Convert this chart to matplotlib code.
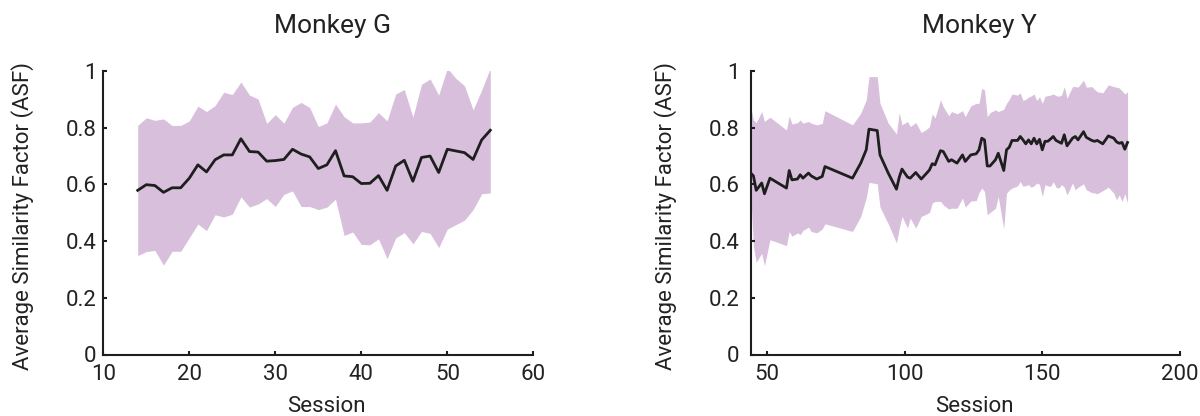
import matplotlib
matplotlib.use("Agg")
import matplotlib.pyplot as plt
import numpy as np

plt.rcParams['font.family'] = ['Roboto', 'DejaVu Sans']

# ---------------- Monkey G ----------------
g_session = list(range(14, 56))
g_mean = [0.579, 0.599, 0.596, 0.572, 0.588, 0.588, 0.622, 0.669, 0.644, 0.687,
          0.704, 0.704, 0.761, 0.716, 0.714, 0.682, 0.684, 0.688, 0.724, 0.707,
          0.697, 0.656, 0.669, 0.719, 0.630, 0.627, 0.603, 0.604, 0.631, 0.579,
          0.665, 0.685, 0.611, 0.695, 0.700, 0.642, 0.724, 0.718, 0.712, 0.688,
          0.757, 0.791]
g_upper = [0.808, 0.835, 0.826, 0.831, 0.808, 0.808, 0.824, 0.876, 0.857, 0.878,
           0.925, 0.917, 0.961, 0.915, 0.901, 0.815, 0.846, 0.816, 0.872, 0.889,
           0.871, 0.804, 0.817, 0.883, 0.839, 0.817, 0.817, 0.820, 0.853, 0.824,
           0.919, 0.935, 0.837, 0.953, 0.972, 0.915, 1.010, 0.974, 0.948, 0.863,
           0.933, 1.010]
g_lower = [0.349, 0.363, 0.367, 0.315, 0.364, 0.364, 0.412, 0.460, 0.437, 0.493,
           0.485, 0.495, 0.556, 0.520, 0.531, 0.550, 0.522, 0.565, 0.577, 0.522,
           0.522, 0.511, 0.520, 0.548, 0.420, 0.432, 0.388, 0.387, 0.408, 0.338,
           0.411, 0.430, 0.390, 0.434, 0.427, 0.377, 0.442, 0.458, 0.474, 0.511,
           0.567, 0.570]

# ---------------- Monkey Y ----------------
y_session = [44, 45, 46, 48, 49, 51, 57, 58, 59, 61, 62, 63, 65, 66, 68, 70, 71,
             81, 84, 86, 87, 90, 91, 94, 97, 98, 99, 101, 102, 104, 106, 108, 109,
             110, 111, 113, 114, 116, 117, 119, 121, 122, 124, 126, 127, 128, 129,
             130, 131, 133, 134, 136, 137, 138, 139, 141, 142, 143, 144, 145, 146,
             147, 148, 149, 150, 151, 152, 153, 154, 155, 156, 157, 158, 159, 161,
             162, 163, 165, 166, 168, 169, 170, 172, 174, 176, 177, 178, 179, 180,
             181]
y_mean = [0.640, 0.630, 0.579, 0.605, 0.567, 0.622, 0.587, 0.649, 0.616, 0.619,
          0.634, 0.622, 0.640, 0.630, 0.619, 0.628, 0.663,
          0.622, 0.675, 0.722, 0.795, 0.790, 0.704, 0.640, 0.583, 0.625, 0.654,
          0.626, 0.622, 0.642, 0.619, 0.640, 0.651,
          0.673, 0.669, 0.719, 0.716, 0.681, 0.687, 0.675, 0.704, 0.681, 0.704,
          0.708, 0.722, 0.763, 0.757,
          0.665, 0.665, 0.687, 0.710, 0.649, 0.722, 0.731, 0.755, 0.755, 0.769,
          0.757, 0.743, 0.757, 0.743,
          0.763, 0.743, 0.759, 0.722, 0.752, 0.752, 0.760, 0.769, 0.755, 0.750,
          0.745, 0.775, 0.736, 0.763,
          0.769, 0.757, 0.786, 0.766, 0.755, 0.752, 0.755, 0.743, 0.771, 0.763,
          0.750, 0.745, 0.748, 0.724, 0.748]
y_upper = [0.874, 0.827, 0.818, 0.857, 0.822, 0.837, 0.792, 0.842, 0.813, 0.818,
           0.827, 0.816, 0.822, 0.816, 0.810, 0.815, 0.860,
           0.810, 0.851, 0.898, 0.980, 0.980, 0.886, 0.816, 0.778, 0.853, 0.810,
           0.822, 0.804, 0.818, 0.783, 0.795, 0.804,
           0.849, 0.834, 0.898, 0.874, 0.842, 0.857, 0.849, 0.860, 0.839, 0.877,
           0.886, 0.886, 0.939, 0.933,
           0.839, 0.853, 0.863, 0.857, 0.865, 0.886, 0.900, 0.919, 0.915, 0.923,
           0.896, 0.900, 0.908, 0.912,
           0.919, 0.896, 0.909, 0.886, 0.911, 0.913, 0.915, 0.919, 0.913, 0.911,
           0.915, 0.945, 0.904, 0.945,
           0.945, 0.943, 0.968, 0.943, 0.945, 0.935, 0.927, 0.923, 0.951, 0.945,
           0.943, 0.940, 0.930, 0.919, 0.927]
y_lower = [0.569, 0.381, 0.325, 0.357, 0.313, 0.405, 0.384, 0.434, 0.417, 0.429,
           0.423, 0.438, 0.449, 0.434, 0.429, 0.443, 0.461,
           0.434, 0.487, 0.552, 0.607, 0.602, 0.520, 0.461, 0.393, 0.445, 0.487,
           0.446, 0.481, 0.446, 0.487, 0.496, 0.501,
           0.534, 0.540, 0.540, 0.528, 0.513, 0.516, 0.516, 0.552, 0.520, 0.541,
           0.543, 0.571, 0.587, 0.575,
           0.493, 0.501, 0.516, 0.557, 0.443, 0.569, 0.580, 0.587, 0.595, 0.610,
           0.593, 0.596, 0.599, 0.590,
           0.595, 0.605, 0.600, 0.557, 0.599, 0.595, 0.593, 0.610, 0.590, 0.587,
           0.599, 0.590, 0.563, 0.605,
           0.581, 0.590, 0.602, 0.581, 0.571, 0.570, 0.567, 0.578, 0.590, 0.569,
           0.546, 0.563, 0.540, 0.567, 0.534]

titles = ["Monkey G", "Monkey Y"]
xlabel = "Session"
ylabel = "Average Similarity Factor (ASF)"
ytick_vals = [0, 0.2, 0.4, 0.6, 0.8, 1]
ytick_labels = ["0", "0.2", "0.4", "0.6", "0.8", "1"]

FILL = "#D8BFDC"
LINE = "#1E1E1E"
TXT = "#222222"

fig = plt.figure(figsize=(12, 4.16), dpi=100)
W, H = 1200, 416
def ax_rect(x0, x1, ytop, ybot):
    return [x0 / W, (H - ybot) / H, (x1 - x0) / W, (ybot - ytop) / H]

axG = fig.add_axes(ax_rect(103.3, 533.3, 71, 354.5))
axY = fig.add_axes(ax_rect(750.7, 1179.8, 71, 354.5))

panels = [
    (axG, g_session, g_mean, g_upper, g_lower, (10, 60), [10, 20, 30, 40, 50, 60], 0.532, 0.518, -0.16, 5),
    (axY, y_session, y_mean, y_upper, y_lower, (44, 200), [50, 100, 150, 200], 0.533, 0.522, -0.172, 8),
]

for i, (ax, s, m, u, l, xl, xt, tx, lx, ly, ypad) in enumerate(panels):
    ax.fill_between(s, l, u, color=FILL, linewidth=0, zorder=1)
    ax.plot(s, m, color=LINE, linewidth=2.0, zorder=3)
    ax.set_xlim(*xl)
    ax.set_ylim(0, 1)
    ax.set_xticks(xt)
    ax.set_yticks(ytick_vals)
    ax.set_yticklabels(ytick_labels)
    for sp in ["top", "right"]:
        ax.spines[sp].set_visible(False)
    for sp in ["left", "bottom"]:
        ax.spines[sp].set_linewidth(1.5)
        ax.spines[sp].set_color(LINE)
        ax.spines[sp].set_zorder(4)
    ax.tick_params(axis="both", direction="in", length=3, width=1.5, color=LINE,
                   labelsize=16, labelcolor=TXT)
    ax.tick_params(axis="x", pad=7)
    ax.tick_params(axis="y", pad=ypad)
    ax.set_title(titles[i], fontsize=19, color=TXT, x=tx, pad=27)
    ax.set_xlabel(xlabel, fontsize=16, color=TXT)
    ax.xaxis.set_label_coords(lx, -0.148)
    ax.set_ylabel(ylabel, fontsize=16, color=TXT)
    ax.yaxis.set_label_coords(ly, 0.49)
    ax.set_facecolor("white")

fig.savefig("out.png", dpi=100, facecolor="white")
